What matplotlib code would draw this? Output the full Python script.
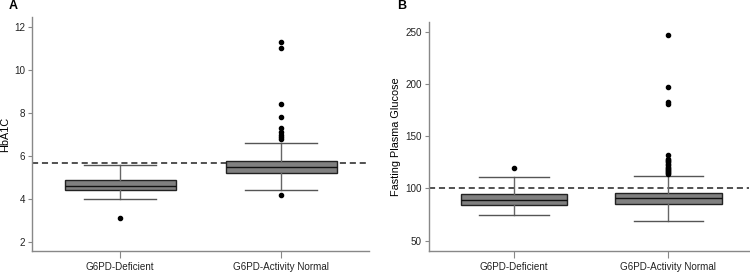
import matplotlib.pyplot as plt

plt.rcParams['font.family'] = ['Liberation Sans', 'DejaVu Sans']

groups = ["G6PD-Deficient", "G6PD-Activity Normal"]

# Panel A: HbA1C
hba_med = [4.6, 5.5]
hba_q1 = [4.42, 5.22]
hba_q3 = [4.88, 5.78]
hba_lo = [4.0, 4.4]
hba_hi = [5.6, 6.6]
hba_out = [[3.1], [4.2, 6.8, 6.9, 7.0, 7.1, 7.3, 7.8, 8.4, 11.0, 11.3]]
hba_ref = 5.7

# Panel B: Fasting Plasma Glucose
fpg_med = [89, 90.6]
fpg_q1 = [84.2, 85.2]
fpg_q3 = [94.4, 95.3]
fpg_lo = [74.3, 68.5]
fpg_hi = [111, 112.2]
fpg_out = [[119.3],
           [114, 115, 116, 117, 118, 119, 120, 121, 122, 123, 125, 126,
            127, 128, 132.3, 181, 182.7, 197.4, 247]]
fpg_ref = 100


def stats(med, q1, q3, lo, hi, out):
    res = []
    for i in range(len(med)):
        res.append(dict(med=med[i], q1=q1[i], q3=q3[i], whislo=lo[i],
                        whishi=hi[i], fliers=out[i], label=groups[i]))
    return res


def panel(ax, st, ref, ylabel, ylim, yticks, xlim):
    ax.bxp(st, positions=[1, 2], widths=0.69, patch_artist=True,
           boxprops=dict(facecolor="#808080", edgecolor="#222222", linewidth=1),
           medianprops=dict(color="#111111", linewidth=1),
           whiskerprops=dict(color="#666666", linewidth=1),
           capprops=dict(color="#555555", linewidth=1),
           capwidths=0.45,
           flierprops=dict(marker="o", markersize=3, markerfacecolor="black",
                           markeredgecolor="black"))
    ax.axhline(ref, color="#222222", linestyle=(0, (4, 2.5)), linewidth=1.1, zorder=0.5)
    ax.set_xlim(*xlim)
    ax.set_ylim(*ylim)
    ax.set_yticks(yticks)
    ax.set_ylabel(ylabel, fontsize=7.8, labelpad=3)
    for s in ["top", "right"]:
        ax.spines[s].set_visible(False)
    for s in ["left", "bottom"]:
        ax.spines[s].set_color("#888888")
        ax.spines[s].set_linewidth(1)
    ax.tick_params(colors="#888888", labelcolor="#222222", labelsize=7.1,
                   length=3, pad=2)
    ax.tick_params(axis="x", length=5, pad=3)


fig = plt.figure(figsize=(7.5, 2.78), dpi=100)
axA = fig.add_axes([0.043, 0.098, 0.449, 0.84])
axB = fig.add_axes([0.572, 0.098, 0.427, 0.824])

panel(axA, stats(hba_med, hba_q1, hba_q3, hba_lo, hba_hi, hba_out), hba_ref,
      "HbA1C", (1.6, 12.45), [2, 4, 6, 8, 10, 12], (0.453, 2.547))
panel(axB, stats(fpg_med, fpg_q1, fpg_q3, fpg_lo, fpg_hi, fpg_out), fpg_ref,
      "Fasting Plasma Glucose", (40.4, 259.6), [50, 100, 150, 200, 250], (0.448, 2.524))

fig.text(0.011, 0.98, "A", fontsize=9, fontweight="bold", ha="left", va="center")
fig.text(0.529, 0.98, "B", fontsize=9, fontweight="bold", ha="left", va="center")

fig.savefig("out.png", dpi=100)
